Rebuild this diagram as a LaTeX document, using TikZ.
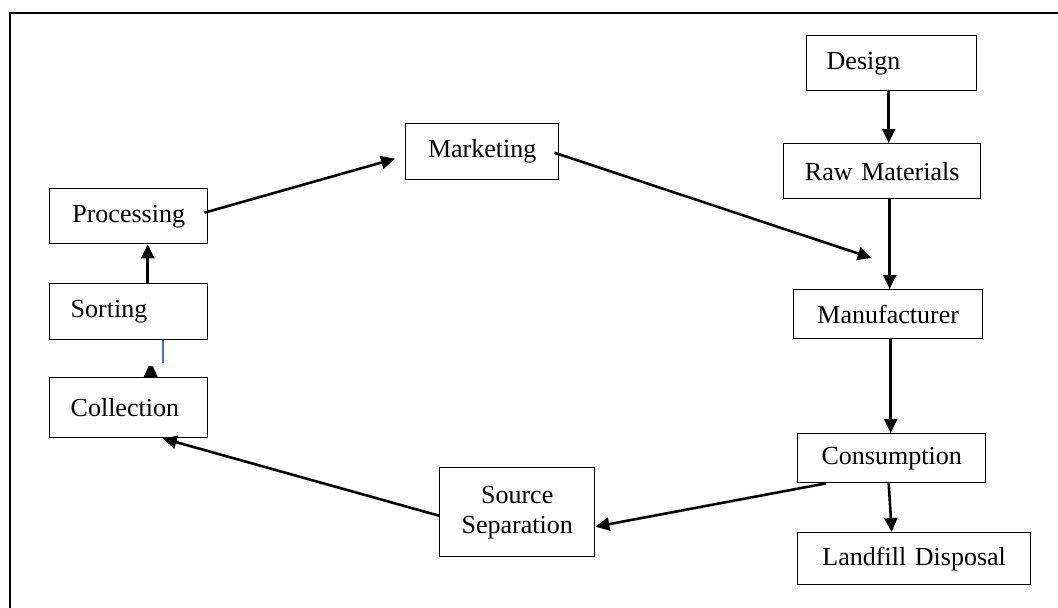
\documentclass[tikz,border=0pt]{standalone}
\usepackage{fontspec}
\setmainfont{Liberation Serif}
\usetikzlibrary{arrows.meta}
\definecolor{lnblue}{RGB}{68,114,196}
\tikzset{
  box/.style={draw, line width=1.4pt, anchor=north west, inner ysep=0pt,
    font=\fontsize{26}{30}\selectfont},
  arr/.style={line width=2.6pt, -{Triangle[length=14pt,width=13pt]}}
}
\begin{document}
\begin{tikzpicture}[x=1pt,y=-1pt]
\useasboundingbox (0,0) rectangle (1058,608);
\fill[white] (0,0) rectangle (1058,608);
% outer frame
\draw[line width=2.6pt] (10,640) -- (10,13) -- (1090,13);
% nodes
\node[box, inner xsep=20pt, text width=130pt, minimum height=55pt, align=left] (design) at (806,35) {Design};
\node[box, inner xsep=0pt, text width=197pt, minimum height=55pt, align=center] (raw) at (783,143) {Raw Materials};
\node[box, inner xsep=0pt, text width=153pt, minimum height=56pt, align=center] (marketing) at (405,123) {Marketing};
\node[box, inner xsep=21pt, text width=116pt, minimum height=55pt, align=center] (processing) at (49,188) {Processing};
\node[box, inner xsep=21pt, text width=116pt, minimum height=56pt, align=left] (sorting) at (49,283) {Sorting};
\node[box, inner xsep=21pt, text width=116pt, minimum height=60pt, align=left] (collection) at (49,377) {Collection};
\node[box, inner xsep=0pt, text width=189pt, minimum height=49pt, align=center] (manuf) at (793,289) {Manufacturer};
\node[box, inner xsep=0pt, text width=188pt, minimum height=49pt, align=center] (cons) at (797,433) {Consumption};
\node[box, inner xsep=0pt, text width=233pt, minimum height=52pt, align=center] (landfill) at (797,532) {Landfill Disposal};
\node[box, inner xsep=0pt, text width=155pt, minimum height=89pt, align=center] (source) at (439,467) {Source\\Separation};
% connectors
\draw[arr] ([xshift=-3pt]design.south) -- ([xshift=6.5pt]raw.north);
\draw[arr] ([xshift=7.5pt]raw.south) -- ([xshift=1.5pt]manuf.north);
\draw[arr] ([xshift=2.5pt]manuf.south) -- ([xshift=-1pt]cons.north);
\draw[arr] ([xshift=-3pt]cons.south) -- ([xshift=-22.5pt]landfill.north);
\draw[arr] ([xshift=-66pt]cons.south) -- ([yshift=-14.5pt]source.east);
\draw[arr] ([yshift=-3.5pt]source.west) -- ([xshift=34pt]collection.south);
\draw[arr] ([xshift=-4pt,yshift=3.5pt]processing.east) -- ([xshift=-10pt,yshift=-7pt]marketing.west);
\draw[arr] ([xshift=-5pt,yshift=-1pt]marketing.east) -- ([xshift=-16.5pt,yshift=31pt]manuf.north);
\draw[arr] ([xshift=19pt]sorting.north) -- ([xshift=19pt]processing.south);
\coordinate (bluend) at ([xshift=34pt,yshift=-23pt]sorting.south);
\draw[lnblue, line width=1.6pt] ([xshift=34pt]sorting.south) -- (bluend);
\fill ([xshift=15pt]collection.north) -- ([xshift=20pt,yshift=11pt]collection.north) -- ([xshift=24pt,yshift=11pt]collection.north) -- ([xshift=29pt]collection.north) -- cycle;
\end{tikzpicture}
\end{document}
